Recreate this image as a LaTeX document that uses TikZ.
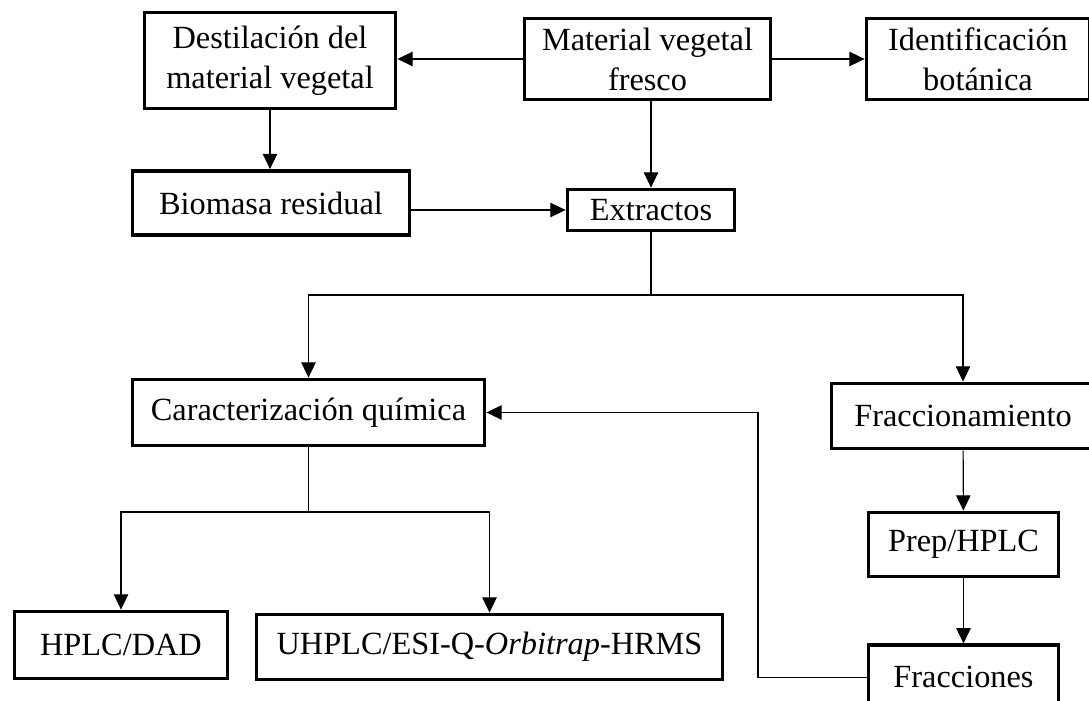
\documentclass[tikz,border=0pt]{standalone}
\usepackage{fontspec}
\setmainfont{Liberation Serif}
\usetikzlibrary{arrows.meta,positioning}
\tikzset{stepbox/.style={draw=black,line width=2.7pt,fill=white,align=center,
    inner sep=0pt,font=\fontsize{23}{28.5}\selectfont},
  flowedge/.style={-{Triangle[length=3.8mm,width=3.6mm]},line width=0.8pt},
  plainedge/.style={line width=0.8pt}}

\begin{document}
\begin{tikzpicture}[x=0.025cm,y=-0.025cm]
    \useasboundingbox (0,0) rectangle (1089,701);
    \node[stepbox,minimum width=6.275cm,minimum height=2.4cm] (dest) at (270,60.5) {Destilación del\\material vegetal};
    \node[stepbox,minimum width=6.15cm,minimum height=2.025cm] (mat) at (647.5,59) {Material vegetal\\fresco};
    \node[stepbox,minimum width=5.575cm,minimum height=2.025cm] (ident) at (978,59) {Identificación\\botánica};
    \node[stepbox,minimum width=6.925cm,minimum height=1.6cm] (bio) at (271,203) {Biomasa residual};
    \node[stepbox,minimum width=4.175cm,minimum height=1.025cm] (ext) at (651,210) {Extractos};
    \node[stepbox,minimum width=8.8cm,minimum height=1.65cm] (car) at (308.5,412.5) {Caracterización química};
    \node[stepbox,minimum width=6.575cm,minimum height=1.625cm] (frac) at (963,416) {Fraccionamiento};
    \node[stepbox,minimum width=4.75cm,minimum height=1.6cm] (prep) at (963.5,544.5) {Prep/HPLC};
    \node[stepbox,minimum width=4.75cm,minimum height=1.6cm,below=1.625cm of prep] (fr) {Fracciones};
    \node[stepbox,minimum width=5.325cm,minimum height=1.675cm] (hplc) at (121,645) {HPLC/DAD};
    \node[stepbox,minimum width=11.65cm,minimum height=1.625cm] (uhplc) at (489.5,647) {UHPLC/ESI-Q-\textit{Orbitrap}-HRMS};
    \coordinate (split1) at (651,295);
    \coordinate (split2) at (308.5,512);
    \coordinate (back) at (758,412.5);
    \draw[flowedge] (mat) -- (mat -| dest.east);
    \draw[flowedge] (mat) -- (mat -| ident.west);
    \draw[flowedge] (dest) -- (dest |- bio.north);
    \draw[flowedge] (bio.east |- ext) -- (ext.west);
    \draw[flowedge] (ext |- mat.south) -- (ext.north);
    \draw[plainedge] (ext.south) -- (split1);
    \draw[flowedge] (split1) -| (car.north);
    \draw[flowedge] (split1) -| (frac.north);
    \draw[flowedge] (frac) -- (prep);
    \draw[flowedge] (prep) -- (fr);
    \draw[flowedge] (fr.west) -| (back) -- (car.east);
    \draw[plainedge] (car.south) -- (split2);
    \draw[flowedge] (split2) -| (hplc.north);
    \draw[flowedge] (split2) -| (uhplc.north);
\end{tikzpicture}
\end{document}
